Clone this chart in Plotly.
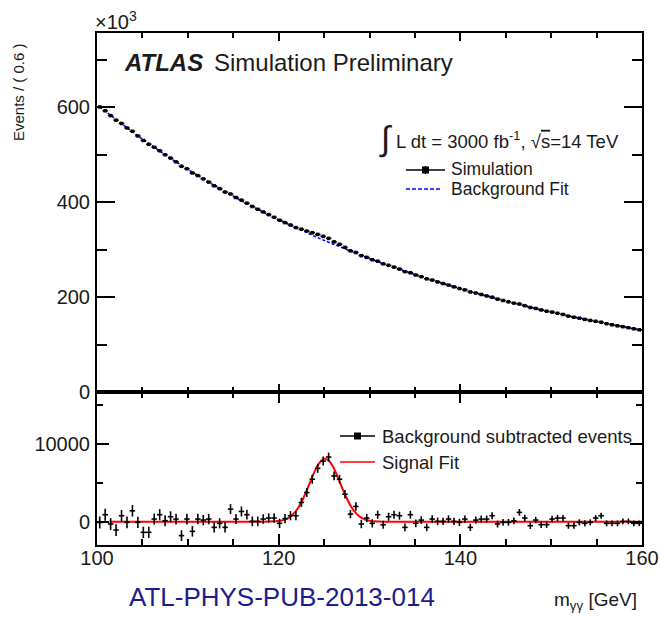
import numpy as np
import plotly.graph_objects as go

# ---------------- data ----------------
bin_low, bin_width, n_bins = 100.0, 0.6, 100
bin_centers = bin_low + bin_width * (np.arange(n_bins) + 0.5)

# background fit (top panel), thousands of events per bin
bkg_fit_k = [
    600.4, 591.3, 582.3, 573.4, 564.7, 556.1, 547.6, 539.3, 531.1, 523.0,
    515.0, 507.2, 499.5, 491.9, 484.4, 477.0, 469.7, 462.5, 455.5, 448.6,
    441.7, 435.0, 428.4, 421.8, 415.4, 409.1, 402.8, 396.7, 390.6, 384.7,
    378.8, 373.1, 367.4, 361.8, 356.3, 350.9, 345.5, 340.3, 335.1, 330.0,
    325.0, 320.0, 315.2, 310.4, 305.6, 301.0, 296.4, 291.9, 287.4, 283.0,
    278.7, 274.5, 270.3, 266.2, 262.1, 258.1, 254.2, 250.3, 246.5, 242.7,
    239.0, 235.4, 231.8, 228.3, 224.8, 221.4, 218.0, 214.7, 211.4, 208.2,
    205.0, 201.9, 198.8, 195.8, 192.8, 189.9, 187.0, 184.1, 181.3, 178.5,
    175.8, 173.1, 170.5, 167.9, 165.3, 162.8, 160.3, 157.9, 155.5, 153.1,
    150.8, 148.5, 146.2, 144.0, 141.8, 139.6, 137.5, 135.4, 133.3, 131.3,
]

# background subtracted events (bottom panel)
bkg_sub = [
    -100, 900, -300, -1070, 770, -85, 1400, -85, -1370, -1370,
    340, 900, 130, 640, 340, -1790, 340, -1240, 340, 210,
    340, -730, -210, -730, 1620, 340, 1320, 900, 40, 40,
    340, 470, 470, -210, 400, 770, 770, 2480, 3760, 5470,
    6870, 7810, 8330, 5890, 5470, 3540, 980, 1960, -300, 470,
    -210, 900, -400, 640, 900, 770, -730, 900, -210, 210,
    -730, 340, 40, 40, 340, 40, -85, 340, -730, 210,
    340, 340, 770, -300, -85, -85, 100, 1200, 470, -510,
    210, -380, -380, 340, 470, 470, -510, -510, -85, -210,
    -85, 470, 770, -210, -210, -210, 40, 40, -210, -210,
]

# simulated events (top panel) = background fit + subtracted residual
sim_k = [b + r / 1000.0 for b, r in zip(bkg_fit_k, bkg_sub)]
sim_err_k = [np.sqrt(s * 1000.0) / 1000.0 for s in sim_k]
sub_err = [np.sqrt(s * 1000.0) for s in sim_k]

# signal fit curve (bottom panel)
sig_x = [101.4, 118.0, 119.0, 120.0, 120.5, 121.0, 121.5, 122.0, 122.5, 123.0,
         123.5, 124.0, 124.5, 125.0, 125.5, 126.0, 126.5, 127.0, 127.5, 128.0,
         128.5, 129.0, 129.5, 130.0, 131.0, 132.0, 160.0]
sig_y = [0, 2, 13, 90, 208, 441, 861, 1536, 2515, 3776,
         5200, 6570, 7610, 8090, 7880, 7040, 5770, 4336, 2990, 1890,
         1096, 583, 284, 127, 20, 2, 0]

x_ticks = [100, 120, 140, 160]
x_tick_text = ["100", "120", "140", "160"]
top_y_ticks = [0, 200, 400, 600]
top_y_text = ["0", "200", "400", "600"]
bot_y_ticks = [0, 10000]
bot_y_text = ["0", "10000"]

# ---------------- layout helpers ----------------
W, H = 660, 618
ML, MR, MT, MB = 97, 18, 33, 73
PW, PH = W - ML - MR, H - MT - MB
SPLIT_PX = 392
split = (MT + PH - SPLIT_PX) / PH


def px(x):
    return (x - ML) / PW


def py(y):
    return (MT + PH - y) / PH


FONT = "Liberation Sans, Arial, sans-serif"
TXT = "#1a1a1a"

fig = go.Figure()

# top panel
fig.add_trace(go.Scatter(
    x=bin_centers, y=bkg_fit_k, mode="lines",
    line=dict(color="#0000ff", width=1.5, dash="3px,2px"),
    xaxis="x2", yaxis="y", showlegend=False, hoverinfo="skip"))
fig.add_trace(go.Scatter(
    x=bin_centers, y=sim_k, mode="markers",
    marker=dict(color="black", size=3.5, symbol="square"),
    error_x=dict(type="constant", value=bin_width / 2, color="black", thickness=1.6, width=0),
    error_y=dict(type="data", array=sim_err_k, color="black", thickness=1.6, width=0),
    xaxis="x2", yaxis="y", showlegend=False))

# bottom panel
fig.add_trace(go.Scatter(
    x=sig_x, y=sig_y, mode="lines", line=dict(color="#ff0000", width=2, shape="spline"),
    xaxis="x", yaxis="y2", showlegend=False, hoverinfo="skip"))
fig.add_trace(go.Scatter(
    x=bin_centers, y=bkg_sub, mode="markers",
    marker=dict(color="black", size=1.5),
    error_x=dict(type="constant", value=bin_width / 2, color="black", thickness=1.6, width=0),
    error_y=dict(type="data", array=sub_err, color="black", thickness=1.6, width=0),
    xaxis="x", yaxis="y2", showlegend=False))

tickfont = dict(family=FONT, size=20, color=TXT)
common_x = dict(range=[100, 160], showline=True, linecolor="black", linewidth=2,
                mirror="ticks", ticks="inside", tickcolor="black", tickwidth=1.5,
                showgrid=False, zeroline=False, tickvals=x_ticks, ticktext=x_tick_text,
                automargin=False)

fig.update_layout(
    width=W, height=H, margin=dict(l=ML, r=MR, t=MT, b=MB, autoexpand=False),
    paper_bgcolor="white", plot_bgcolor="white",
    xaxis=dict(domain=[0, 1], anchor="y2", ticklen=11,
               minor=dict(dtick=5, ticklen=6, ticks="inside", tickcolor="black", tickwidth=1.5),
               tickfont=tickfont, ticklabelstandoff=-6, ticklabeloverflow="allow", **common_x),
    xaxis2=dict(domain=[0, 1], anchor="y", matches="x", showticklabels=False, ticklen=8,
                minor=dict(dtick=5, ticklen=5, ticks="inside", tickcolor="black", tickwidth=1.5),
                **common_x),
    yaxis=dict(domain=[split, 1], anchor="x2", range=[0, 756],
               tickvals=top_y_ticks, ticktext=top_y_text,
               showline=True, linecolor="black", linewidth=2, mirror="ticks",
               ticks="inside", ticklen=18, tickcolor="black", tickwidth=1.5,
               minor=dict(dtick=100, ticklen=10, ticks="inside", tickcolor="black", tickwidth=1.5),
               showgrid=False, zeroline=False, tickfont=tickfont, ticklabelstandoff=1,
               ticklabeloverflow="allow", automargin=False),
    yaxis2=dict(domain=[0, split], anchor="x", range=[-3000, 16700],
                tickvals=bot_y_ticks, ticktext=bot_y_text,
                showline=True, linecolor="black", linewidth=2, mirror="ticks",
                ticks="inside", ticklen=12, tickcolor="black", tickwidth=1.5,
                minor=dict(dtick=5000, ticklen=6, ticks="inside", tickcolor="black", tickwidth=1.5),
                showgrid=False, zeroline=False, tickfont=tickfont, ticklabelstandoff=1,
                ticklabeloverflow="allow", automargin=False),
)

ann = []


def text(x, y, s, size, color=TXT, xanchor="left", angle=0):
    ann.append(dict(x=px(x), y=py(y), xref="paper", yref="paper", text=s, showarrow=False,
                    xanchor=xanchor, yanchor="middle", textangle=angle, borderpad=0,
                    font=dict(family=FONT, size=size, color=color)))


text(94, 20, "×10<sup>3</sup>", 20)
text(18, 92, "Events / ( 0.6 )", 15, xanchor="center", angle=-90)
text(123, 62, "<b><i>ATLAS</i></b>", 24)
text(213, 62, "Simulation Preliminary", 24)
text(378, 138, "<span style='font-size:34px'>∫</span>", 20)
text(395, 140, "L dt = 3000 fb<sup>-1</sup>, √<span style='text-decoration:overline'>s</span>=14 TeV", 18.5)
text(450, 169, "Simulation", 17.5)
text(450, 189, "Background Fit", 17.5)
text(381, 436, "Background subtracted events", 18.5)
text(381, 462, "Signal Fit", 18.5)
text(128, 597, "ATL-PHYS-PUB-2013-014", 26, color="#1c1c8c")
text(553, 601, "m<sub>γγ</sub> [GeV]", 19)

fig.update_layout(annotations=ann)

shapes = []


def pline(x0, y0, x1, y1, color="black", width=1.5, dash="solid"):
    shapes.append(dict(type="line", xref="paper", yref="paper", x0=px(x0), y0=py(y0),
                       x1=px(x1), y1=py(y1), line=dict(color=color, width=width, dash=dash)))


def prect(xc, yc, half, color="black"):
    shapes.append(dict(type="rect", xref="paper", yref="paper", x0=px(xc - half), y0=py(yc + half),
                       x1=px(xc + half), y1=py(yc - half), line=dict(width=0), fillcolor=color))


# legend glyphs
pline(406, 170, 445, 170, width=1.5)
prect(425.5, 170, 3.5)
pline(425.5, 166, 425.5, 174, width=1.5)
pline(406, 189, 442, 189, color="#0000ff", width=1.5, dash="4px,2px")
pline(340, 436, 375, 436, width=1.5)
prect(357.5, 436, 3.5)
pline(340, 462, 375, 462, color="#ff0000", width=1.5)

fig.update_layout(shapes=shapes)

fig.write_html("out.html")
